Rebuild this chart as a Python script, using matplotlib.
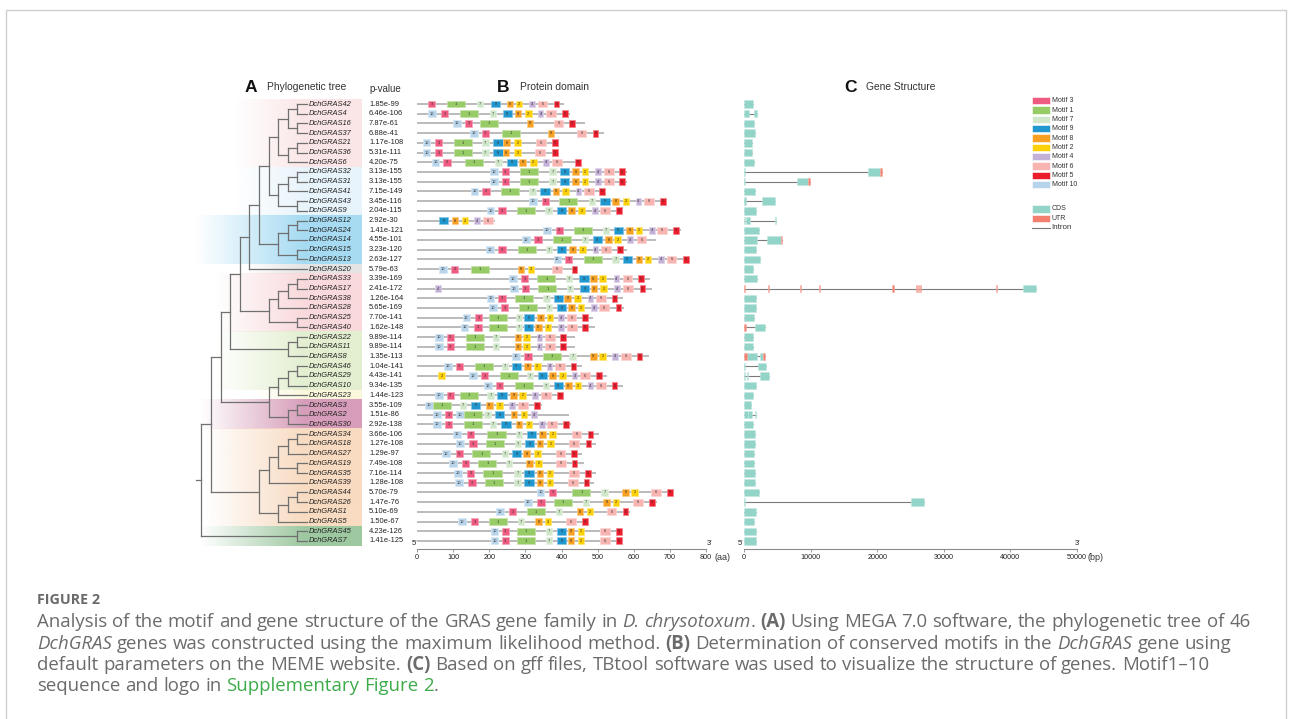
import re
import numpy as np
import matplotlib
matplotlib.use("Agg")
import matplotlib.pyplot as plt
import matplotlib.colors as mcolors
from matplotlib.patches import Rectangle
from matplotlib.lines import Line2D

plt.rcParams['font.family'] = ['Liberation Sans', 'DejaVu Sans']

# --- DATA ---
GENES = ["DchGRAS42", "DchGRAS4", "DchGRAS16", "DchGRAS37", "DchGRAS21", "DchGRAS36", "DchGRAS6",
         "DchGRAS32", "DchGRAS31", "DchGRAS41", "DchGRAS43", "DchGRAS9",
         "DchGRAS12", "DchGRAS24", "DchGRAS14", "DchGRAS15", "DchGRAS13", "DchGRAS20",
         "DchGRAS33", "DchGRAS17", "DchGRAS38", "DchGRAS28", "DchGRAS25", "DchGRAS40",
         "DchGRAS22", "DchGRAS11", "DchGRAS8", "DchGRAS46", "DchGRAS29", "DchGRAS10", "DchGRAS23",
         "DchGRAS3", "DchGRAS2", "DchGRAS30",
         "DchGRAS34", "DchGRAS18", "DchGRAS27", "DchGRAS19", "DchGRAS35", "DchGRAS39",
         "DchGRAS44", "DchGRAS26", "DchGRAS1", "DchGRAS5", "DchGRAS45", "DchGRAS7"]

P_VALUES = ["1.85e-99", "6.46e-106", "7.87e-61", "6.88e-41", "1.17e-108", "5.31e-111", "4.20e-75",
            "3.13e-155", "3.13e-155", "7.15e-149", "3.45e-116", "2.04e-115",
            "2.92e-30", "1.41e-121", "4.55e-101", "3.23e-120", "2.63e-127", "5.79e-63",
            "3.39e-169", "2.41e-172", "1.26e-164", "5.65e-169", "7.70e-141", "1.62e-148",
            "9.89e-114", "9.89e-114", "1.35e-113", "1.04e-141", "4.43e-141", "9.34e-135", "1.44e-123",
            "3.55e-109", "1.51e-86", "2.92e-138",
            "3.66e-106", "1.27e-108", "1.29e-97", "7.49e-108", "7.16e-114", "1.28e-108",
            "5.70e-79", "1.47e-76", "5.10e-69", "1.50e-67", "4.23e-126", "1.41e-125"]

# cladogram topology (numbers = DchGRAS id)
TREE = ((((((((((((42, 4), (16, 37)), ((21, 36), 6)), (((32, 31), 41), (43, 9))),
                (((12, 24), 14), (15, 13))), 20),
              ((((33, 17), 38), 28), (25, 40))),
             ((22, 11), 8)),
            ((((46, 29), 10), 23), ((3, 2), 30))),
           (((((34, 18), 27), (19, 35)), 39), (((44, 26), 1), 5))),
          (45, 7)))

# protein length (aa) and motif start positions (motif id, start aa)
PROT_LEN = [408, 424, 465, 519, 393, 393, 453, 580, 580, 521, 689, 565, 216, 731, 661, 580, 756, 447,
            645, 650, 569, 574, 488, 493, 437, 437, 641, 456, 525, 571, 401, 345, 421, 426,
            504, 495, 458, 461, 495, 490, 710, 664, 590, 474, 569, 569]

MOTIF_SITES = [
    [(3, 31), (1, 82), (7, 165), (9, 205), (8, 248), (2, 274), (4, 311), (6, 334), (5, 378)],
    [(10, 31), (3, 66), (1, 119), (7, 202), (9, 237), (8, 271), (2, 299), (4, 334), (6, 357), (5, 401)],
    [(10, 101), (3, 133), (1, 174), (8, 304), (6, 378), (5, 422)],
    [(10, 147), (3, 179), (1, 234), (8, 362), (6, 442), (5, 486)],
    [(10, 16), (3, 50), (1, 103), (7, 180), (9, 211), (8, 239), (2, 269), (6, 330), (5, 375)],
    [(10, 16), (3, 50), (1, 103), (7, 180), (9, 211), (8, 237), (2, 269), (6, 328), (5, 375)],
    [(10, 41), (3, 73), (1, 133), (7, 216), (9, 250), (8, 283), (2, 313), (4, 350), (6, 373), (5, 437)],
    [(10, 203), (3, 234), (1, 285), (7, 366), (9, 396), (8, 430), (2, 456), (4, 493), (6, 518), (5, 560)],
    [(10, 203), (3, 234), (1, 285), (7, 366), (9, 396), (8, 430), (2, 456), (4, 493), (6, 518), (5, 560)],
    [(10, 149), (3, 181), (1, 233), (7, 311), (9, 341), (8, 376), (2, 402), (4, 439), (6, 463), (5, 505)],
    [(10, 311), (3, 345), (1, 394), (7, 476), (9, 507), (8, 541), (2, 569), (4, 605), (6, 629), (5, 673)],
    [(10, 193), (3, 225), (1, 276), (7, 355), (9, 387), (8, 419), (2, 447), (4, 484), (6, 507), (5, 551)],
    [(9, 61), (8, 96), (2, 124), (4, 159), (6, 182)],
    [(10, 350), (3, 384), (1, 435), (7, 514), (9, 544), (8, 579), (2, 605), (4, 642), (6, 665), (5, 710)],
    [(10, 292), (3, 325), (1, 376), (7, 456), (9, 486), (8, 521), (2, 546), (4, 582), (6, 608)],
    [(10, 191), (3, 225), (1, 279), (7, 357), (9, 387), (8, 422), (2, 449), (4, 486), (6, 510), (5, 553)],
    [(10, 378), (3, 410), (1, 461), (7, 541), (9, 569), (8, 605), (2, 631), (4, 668), (6, 691), (5, 736)],
    [(10, 62), (3, 94), (1, 150), (8, 279), (2, 306), (6, 373), (5, 428)],
    [(10, 256), (3, 288), (1, 333), (7, 412), (9, 449), (8, 479), (2, 505), (4, 544), (6, 569), (5, 613)],
    [(4, 50), (10, 258), (3, 290), (1, 336), (7, 414), (9, 451), (8, 481), (2, 507), (4, 546), (6, 571), (5, 616)],
    [(10, 193), (3, 225), (1, 271), (7, 350), (9, 378), (8, 408), (2, 435), (4, 472), (6, 495), (5, 539)],
    [(10, 200), (3, 233), (1, 281), (7, 357), (9, 387), (8, 419), (2, 445), (4, 482), (6, 505), (5, 550)],
    [(10, 126), (3, 161), (1, 200), (7, 273), (9, 297), (8, 333), (2, 359), (4, 390), (6, 414), (5, 456)],
    [(10, 121), (3, 159), (1, 200), (7, 273), (9, 296), (8, 327), (2, 353), (4, 391), (6, 416), (5, 458)],
    [(10, 50), (3, 82), (1, 136), (7, 210), (8, 270), (2, 294), (4, 331), (6, 354), (5, 396)],
    [(10, 50), (3, 82), (1, 136), (7, 210), (8, 270), (2, 294), (4, 331), (6, 354), (5, 396)],
    [(10, 264), (3, 297), (1, 348), (7, 422), (8, 479), (2, 505), (4, 541), (6, 565), (5, 608)],
    [(10, 75), (3, 107), (1, 161), (7, 234), (9, 262), (8, 297), (2, 324), (4, 359), (6, 382), (5, 425)],
    [(2, 59), (10, 145), (3, 177), (1, 230), (7, 304), (9, 334), (8, 366), (2, 394), (4, 428), (6, 451), (5, 495)],
    [(10, 186), (3, 219), (1, 271), (7, 348), (9, 378), (8, 410), (2, 436), (4, 472), (6, 495), (5, 539)],
    [(10, 50), (3, 82), (1, 119), (7, 195), (9, 222), (8, 258), (2, 283), (4, 319), (6, 343), (5, 387)],
    [(10, 22), (1, 45), (7, 119), (9, 149), (8, 191), (2, 219), (4, 255), (6, 279), (5, 324)],
    [(10, 45), (3, 78), (10, 108), (1, 131), (7, 186), (9, 216), (8, 260), (2, 287), (4, 315)],
    [(10, 45), (3, 78), (1, 130), (7, 202), (9, 233), (8, 274), (2, 301), (4, 338), (6, 361), (5, 405)],
    [(10, 101), (3, 139), (1, 195), (7, 274), (9, 304), (8, 338), (2, 366), (6, 428), (5, 472)],
    [(10, 108), (3, 145), (1, 191), (7, 270), (9, 299), (8, 331), (2, 361), (6, 422), (5, 467)],
    [(10, 70), (3, 107), (1, 153), (7, 235), (9, 263), (8, 294), (2, 325), (6, 384), (5, 426)],
    [(10, 89), (3, 124), (1, 170), (7, 246), (8, 302), (2, 327), (6, 385), (5, 428)],
    [(10, 103), (3, 138), (1, 184), (7, 269), (9, 297), (8, 331), (2, 359), (6, 422), (5, 465)],
    [(10, 105), (3, 142), (1, 188), (7, 269), (9, 297), (8, 331), (2, 359), (6, 419), (5, 461)],
    [(10, 331), (3, 366), (1, 430), (7, 510), (8, 568), (2, 593), (6, 648), (5, 693)],
    [(10, 297), (3, 333), (1, 379), (7, 459), (8, 516), (2, 542), (6, 599), (5, 643)],
    [(10, 219), (3, 255), (1, 304), (7, 384), (8, 442), (2, 470), (6, 525), (5, 569)],
    [(10, 114), (3, 149), (1, 199), (7, 279), (8, 328), (2, 354), (6, 413), (5, 456)],
    [(10, 204), (3, 234), (1, 276), (7, 357), (9, 387), (8, 417), (2, 445), (6, 507), (5, 551)],
    [(10, 204), (3, 234), (1, 276), (7, 357), (9, 387), (8, 417), (2, 445), (6, 507), (5, 551)],
]

MOTIF_WIDTH = {1: 50, 2: 18, 3: 20, 4: 16, 5: 16, 6: 27, 7: 18, 8: 18, 9: 26, 10: 21}
MOTIF_COLORS = {3: '#ef5a80', 1: '#97cb66', 7: '#d0e7c9', 9: '#2197cf', 8: '#f7a021',
                2: '#fdd10a', 4: '#c4b1d7', 6: '#f8b4b1', 5: '#eb1d2c', 10: '#b7d4ea'}
LEGEND_ORDER = [3, 1, 7, 9, 8, 2, 4, 6, 5, 10]

# gene structure (bp): span of intron line, CDS and UTR segments
GENE_SPAN = [1300, 2000, 1500, 1650, 1250, 1250, 1450, 20650, 9950, 1650, 4600, 1800, 4800, 2300,
             5700, 1800, 2350, 1400, 2000, 43900, 1750, 1750, 1500, 3150, 1400, 1400, 3100, 3300,
             3800, 1750, 1300, 1100, 1800, 1350, 1600, 1600, 1500, 1500, 1600, 1600, 2250, 27100,
             1800, 1500, 1800, 1800]
GENE_CDS = {1: [(0, 700), (1450, 2000)], 7: [(0, 100), (18650, 20400)], 8: [(0, 100), (7900, 9650)],
            10: [(0, 250), (2750, 4600)], 12: [(0, 150), (300, 850), (4700, 4800)],
            14: [(0, 2000), (3500, 5500)], 19: [(41900, 43900)], 23: [(1650, 3150)],
            26: [(500, 2000), (2350, 2900)], 27: [(0, 100), (2050, 3300)],
            28: [(0, 100), (400, 550), (2450, 3800)], 32: [(0, 550), (650, 1200), (1700, 1800)],
            41: [(0, 100), (25150, 27100)]}
GENE_UTR = {7: [(20400, 20650)], 8: [(9650, 9950)], 14: [(5500, 5700)],
            19: [(0, 150), (3650, 3800), (8400, 8550), (11250, 11450), (22250, 22450),
                 (25900, 26050), (26200, 26350), (26450, 26600), (37850, 38050)],
            23: [(0, 300)], 26: [(0, 500), (2900, 3100)]}
CDS_COLOR, UTR_COLOR = '#93d4c8', '#f3806f'

# clade shading: first row, last row, colour, left start (px)
BANDS = [(0, 6, '#fbe6e7', 235), (7, 11, '#e8f4fb', 235), (12, 16, '#a6dbf3', 195),
         (17, 17, '#e4e4e4', 245), (18, 23, '#f9d9dc', 215), (24, 29, '#e3efd0', 215),
         (30, 30, '#fbf8dc', 255), (31, 33, '#d79dba', 200), (34, 43, '#f8dbc1', 205),
         (44, 45, '#9dc8a0', 200)]

# --- LAYOUT (pixels) ---
W, H, DPI = 1292, 719, 100
fig = plt.figure(figsize=(W / DPI, H / DPI), dpi=DPI)
fig.patch.set_facecolor('white')


def fx(x):
    return x / W


def fy(y):
    return 1 - y / H


def px_axes(x0, y0, x1, y1):
    ax = fig.add_axes([fx(x0), fy(y1), (x1 - x0) / W, (y1 - y0) / H])
    ax.patch.set_alpha(0)
    return ax


ROW0, ROWSTEP = 104, 9.711
AX_TOP = ROW0 - 0.5 * ROWSTEP
AX_BOT = 549
YLIM = ((AX_BOT - ROW0) / ROWSTEP, -0.5)
FS_NAME = 5.4

# --- A: tree ---
TIP_PX, LEVEL_PX = 307, 9.6
TX0, TX1 = 190, 362
ax_t = px_axes(TX0, AX_TOP, TX1, AX_BOT)


def lev(px):
    return (px - TIP_PX) / LEVEL_PX


for r0, r1, col, start in BANDS:
    xs = np.linspace(lev(start), lev(TX1), 200)
    img = np.zeros((1, len(xs), 4))
    img[..., :3] = mcolors.to_rgb(col)
    img[..., 3] = np.clip((xs - xs[0]) / (lev(305) - xs[0]), 0, 1)
    ax_t.imshow(img, extent=(xs[0], xs[-1], r1 + 0.5, r0 - 0.5), aspect='auto',
                interpolation='bilinear', zorder=0)

TREE_KW = dict(color='#707070', lw=0.9, solid_capstyle='projecting', zorder=2)


def draw_node(node):
    if isinstance(node, int):
        return 0, GENES.index(f"DchGRAS{node}")
    kids = [draw_node(c) for c in node]
    lvl = max(k[0] for k in kids) + 1
    ys = [k[1] for k in kids]
    ax_t.plot([-lvl, -lvl], [min(ys), max(ys)], **TREE_KW)
    for kl, ky in kids:
        ax_t.plot([-lvl, -kl], [ky, ky], **TREE_KW)
    return lvl, (min(ys) + max(ys)) / 2


root_lvl, root_y = draw_node(TREE)
ax_t.plot([-root_lvl - 0.6, -root_lvl], [root_y, root_y], **TREE_KW)

for i, (g, p) in enumerate(zip(GENES, P_VALUES)):
    ax_t.text(lev(309), i, g, style='italic', fontsize=FS_NAME, va='center', ha='left', color='#222222')
    ax_t.text(lev(369), i, p, fontsize=FS_NAME, va='center', ha='left', color='#222222', clip_on=False)

ax_t.set_xlim(lev(TX0), lev(TX1))
ax_t.set_ylim(*YLIM)
ax_t.axis('off')

# --- B: protein domains ---
ax_p = px_axes(417, AX_TOP, 706, AX_BOT)
for i, (L, sites) in enumerate(zip(PROT_LEN, MOTIF_SITES)):
    ax_p.plot([0, L], [i, i], color='#a8a8a8', lw=1.1, solid_capstyle='butt', zorder=1)
    for m, s in sites:
        w = MOTIF_WIDTH[m]
        fc = MOTIF_COLORS[m]
        ec = mcolors.to_rgb(fc)
        ec = tuple(0.55 * c + 0.45 for c in ec)
        ax_p.add_patch(Rectangle((s, i - 0.36), w, 0.72, fc=fc, ec=ec, lw=0.5, zorder=2))
        ax_p.text(s + w / 2, i, str(m), fontsize=2.8, ha='center', va='center', color='#333333', zorder=3)

ax_p.set_xlim(0, 800)
ax_p.set_ylim(*YLIM)
ax_p.set_xticks(range(0, 801, 100))
ax_p.set_yticks([])

# --- C: gene structure ---
ax_g = px_axes(744, AX_TOP, 1077, AX_BOT)
for i, span in enumerate(GENE_SPAN):
    ax_g.plot([0, span], [i, i], color='#7a7a7a', lw=0.8, zorder=1)
    for a, b in GENE_CDS.get(i, [(0, span)]):
        ax_g.add_patch(Rectangle((a, i - 0.38), b - a, 0.76, fc=CDS_COLOR, ec='#c2e8e1', lw=0.4, zorder=2))
    for a, b in GENE_UTR.get(i, []):
        ax_g.add_patch(Rectangle((a, i - 0.38), b - a, 0.76, fc=UTR_COLOR, ec='#f8b2a8', lw=0.4, zorder=3))

ax_g.set_xlim(0, 50000)
ax_g.set_ylim(*YLIM)
ax_g.set_xticks(range(0, 50001, 10000))
ax_g.set_yticks([])

for ax in (ax_p, ax_g):
    for side in ('top', 'right', 'left'):
        ax.spines[side].set_visible(False)
    ax.spines['bottom'].set_color('#8a8a8a')
    ax.spines['bottom'].set_linewidth(0.8)
    ax.tick_params(axis='x', length=2, width=0.6, color='#8a8a8a', labelsize=5.2, pad=1.5,
                   labelcolor='#222222')

# axis end labels
LBL = dict(fontsize=5.4, color='#222222')
fig.text(fx(412), fy(547), "5\u2032", va='bottom', **LBL)
fig.text(fx(707), fy(547), "3\u2032", va='bottom', **LBL)
fig.text(fx(714), fy(558), "(aa)", va='center', fontsize=6.5, color='#333333')
fig.text(fx(738), fy(547), "5\u2032", va='bottom', **LBL)
fig.text(fx(1075), fy(547), "3\u2032", va='bottom', **LBL)
fig.text(fx(1087), fy(558), "(bp)", va='center', fontsize=6.5, color='#333333')

# panel titles
for letter, lx, title, tx in [("A", 251, "Phylogenetic tree", 267), ("B", 503, "Protein domain", 520),
                              ("C", 850, "Gene Structure", 866)]:
    fig.text(fx(lx), fy(87), letter, fontsize=12.5, weight='bold', ha='center', va='center', color='#111111')
    fig.text(fx(tx), fy(87), title, fontsize=7.4, ha='left', va='center', color='#333333')
fig.text(fx(369), fy(89), "p-value", fontsize=7, ha='left', va='center', color='#333333')

# legend
for k, m in enumerate(LEGEND_ORDER):
    y = 100.7 + k * 9.33
    fig.add_artist(Rectangle((fx(1032), fy(y + 3.6)), 17.5 / W, 7.2 / H, transform=fig.transFigure,
                             fc=MOTIF_COLORS[m], ec='white', lw=0.4))
    fig.text(fx(1051.5), fy(y), f"Motif {m}", fontsize=5, va='center', color='#333333')
for y, lab, col in [(209, "CDS", CDS_COLOR), (218.7, "UTR", UTR_COLOR)]:
    fig.add_artist(Rectangle((fx(1032), fy(y + 3.6)), 17.5 / W, 7.2 / H, transform=fig.transFigure,
                             fc=col, ec='white', lw=0.4))
    fig.text(fx(1051.5), fy(y), lab, fontsize=5, va='center', color='#333333')
fig.add_artist(Line2D([fx(1032), fx(1049.5)], [fy(228), fy(228)], transform=fig.transFigure,
                      color='#7a7a7a', lw=0.8))
fig.text(fx(1051.5), fy(228), "Intron", fontsize=5.8, va='center', color='#333333')

# frame
FRAME = '#cfcfcf'
fig.add_artist(Line2D([fx(6), fx(6), fx(1286), fx(1286)], [0, fy(10), fy(10), 0],
                      transform=fig.transFigure, color=FRAME, lw=1.0))

# --- caption ---
CAP_FONT = ['Open Sans', 'DejaVu Sans']
CAP_COLOR = '#6b6b6b'
fig.text(fx(37), fy(600), "FIGURE 2", family=CAP_FONT, weight='bold', fontsize=10.3,
         color='#6a6a6a', va='center')

CAPTION = [
    [("Analysis of the motif and gene structure of the GRAS gene family in ", ""), ("D. chrysotoxum", "i"),
     (". ", ""), ("(A)", "b"), (" Using MEGA 7.0 software, the phylogenetic tree of 46", "")],
    [("DchGRAS", "i"), (" genes was constructed using the maximum likelihood method. ", ""), ("(B)", "b"),
     (" Determination of conserved motifs in the ", ""), ("DchGRAS", "i"), (" gene using", "")],
    [("default parameters on the MEME website. ", ""), ("(C)", "b"),
     (" Based on gff files, TBtool software was used to visualize the structure of genes. Motif1\u201310", "")],
    [("sequence and logo in ", ""), ("Supplementary Figure 2", "g"), (".", "")],
]
renderer = fig.canvas.get_renderer()


def rich_line(x0, y, parts, size):
    made = []
    x = x0
    space = None
    for txt, st in parts:
        kw = dict(family=CAP_FONT, fontsize=size, color=CAP_COLOR, va='center', ha='left')
        if 'i' in st:
            kw['style'] = 'italic'
        if 'b' in st:
            kw['weight'] = 'bold'
        if 'g' in st:
            kw['color'] = '#3dab4a'
        if space is None:
            a = fig.text(0, 0, "x x", **kw)
            b = fig.text(0, 0, "xx", **kw)
            space = a.get_window_extent(renderer).width - b.get_window_extent(renderer).width
            a.remove()
            b.remove()
        for tok in re.split(r'( )', txt):
            if tok == '':
                continue
            if tok == ' ':
                x += space
                continue
            t = fig.text(fx(x), fy(y), tok, **kw)
            made.append(t)
            x += t.get_window_extent(renderer).width
    return made, x


trial, xend = rich_line(37, 622, CAPTION[0], 12)
for t in trial:
    t.remove()
cap_size = 12 * (1245 - 37) / (xend - 37)
for k, parts in enumerate(CAPTION):
    rich_line(37, [622, 644, 665, 686][k], parts, cap_size)

fig.savefig("out.png", dpi=DPI)
